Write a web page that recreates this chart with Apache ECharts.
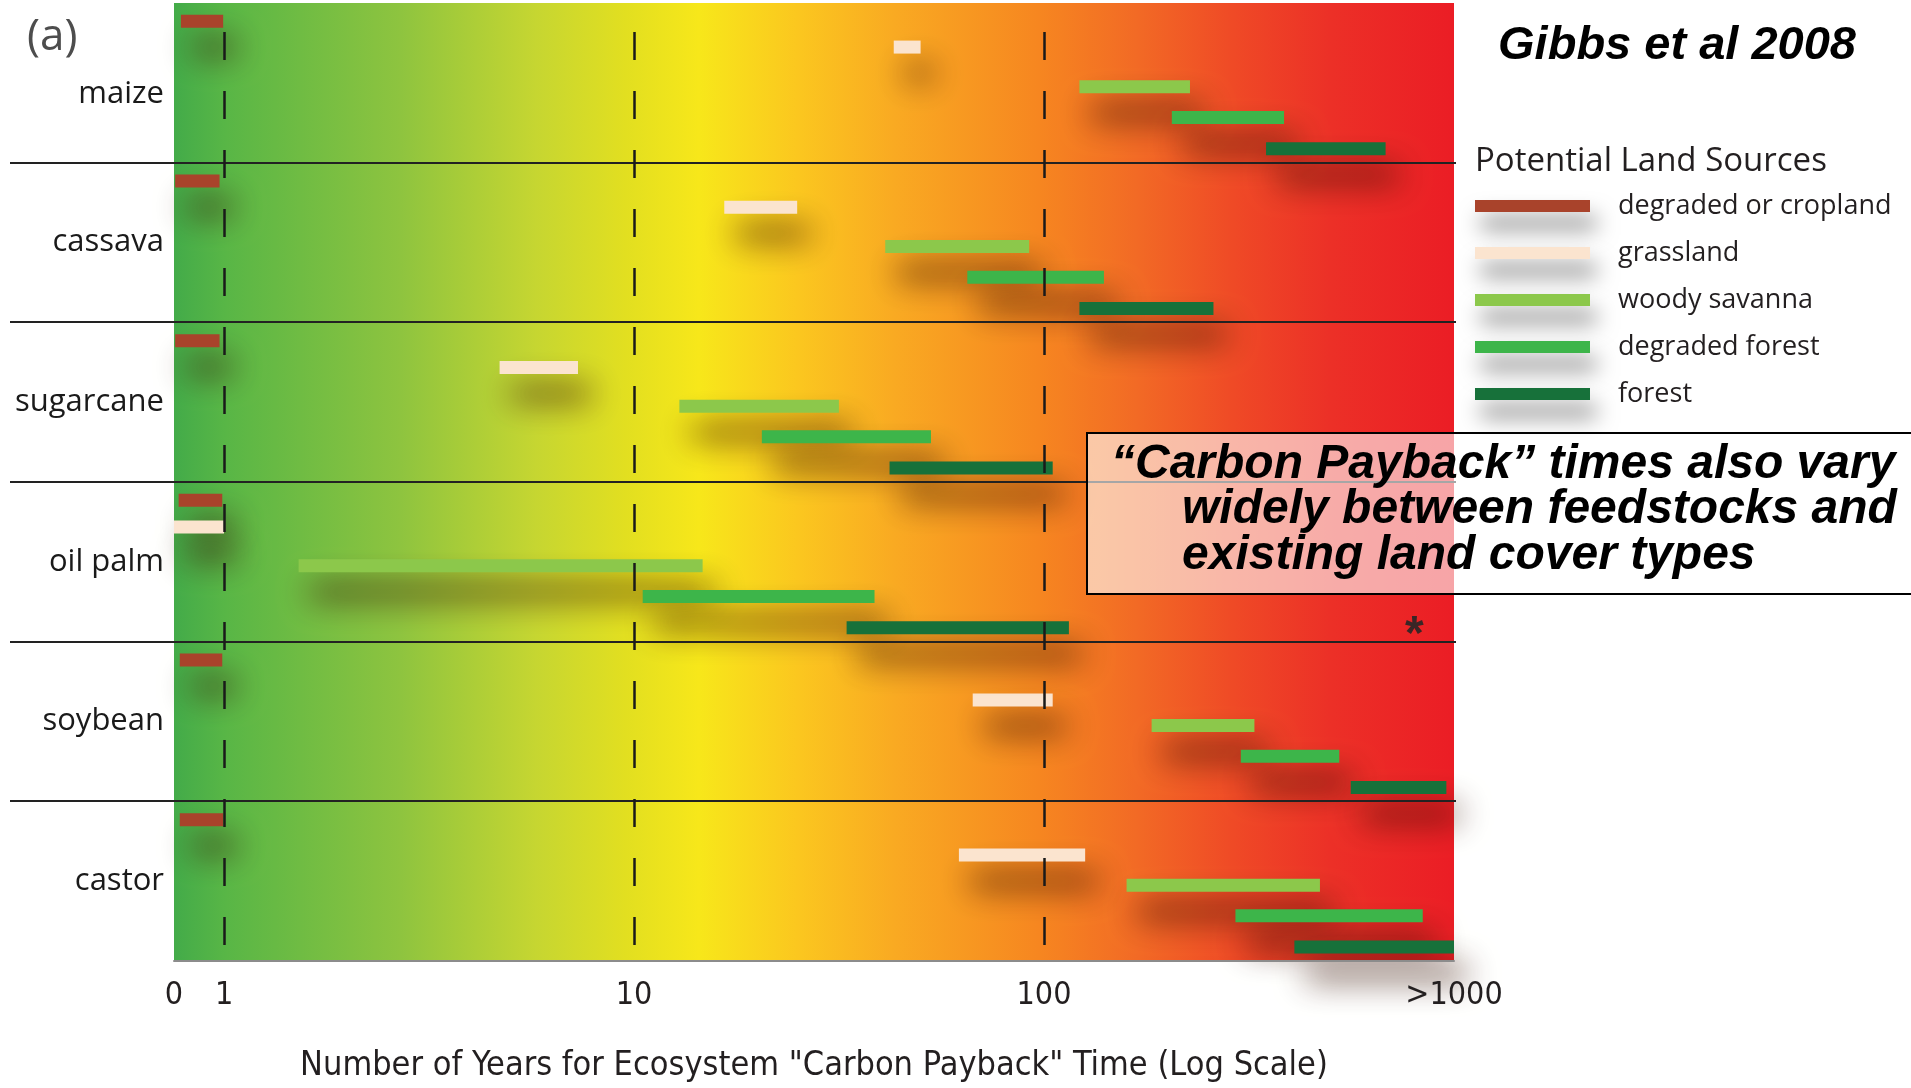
<!DOCTYPE html>
<html>
<head>
<meta charset="utf-8">
<script src="https://cdn.jsdelivr.net/npm/echarts@6/dist/echarts.min.js"></script>
<style>
html,body{margin:0;padding:0;background:#fff;}
#chart{width:1911px;height:1088px;}
</style>
</head>
<body>
<div id="chart"></div>
<script>
// ---------------- DATA ----------------
const categories = ['maize', 'cassava', 'sugarcane', 'oil palm', 'soybean', 'castor'];
const landSources = ['degraded or cropland', 'grassland', 'woody savanna', 'degraded forest', 'forest'];

// [start, end] of carbon payback time in years, one pair per crop (category order)
const croplandYears       = [[0.785, 0.995], [0.76, 0.975], [0.76, 0.975], [0.775, 0.99], [0.78, 0.99], [0.78, 0.995]];
const grasslandYears      = [[43, 50], [16.6, 25], [4.7, 7.3], [0.755, 1.0], [67, 105], [62, 126]];
const savannaYears        = [[122, 227], [41, 92], [12.9, 31.6], [1.52, 14.7], [183, 326], [159, 471]];
const degradedForestYears = [[205, 385], [65, 140], [20.5, 53], [10.5, 38.6], [302, 525], [293, 839]];
const forestYears         = [[348, 681], [122, 259], [42, 105], [33, 115], [560, 958], [408, 1000]];

const axisMinYears = 0.755;   // the "0" end of the axis
const axisMaxYears = 1000;
const tickLabelZero = '0';
const tickLabelMax = '>1000';

const asteriskYears = 800;
const asteriskCrop = 'oil palm';

// ---------------- STYLE / LAYOUT ----------------
const COLORS = ['#a9432b', '#fbe4cf', '#8cc84b', '#3db54a', '#17713a'];
const BAR_H = 13;
// vertical position of each land-source bar inside its crop band (fraction of band)
const BAND_OFFSET = [0.115, null, 0.525, 0.717, 0.913];
const GRASS_OFFSET = [0.276, 0.28, 0.283, 0.282, 0.365, 0.336];
const SEP_EXT = 164;

const NARROW = "'Liberation Sans Narrow', 'Arial Narrow', 'DejaVu Sans Condensed', sans-serif";
const HUMAN = "'Open Sans', 'Noto Sans', sans-serif";
const ARIAL = "'Liberation Sans', Arial, sans-serif";

const seriesYears = [croplandYears, grasslandYears, savannaYears, degradedForestYears, forestYears];

function offsetFor(si, ci) {
  return si === 1 ? GRASS_OFFSET[ci] : BAND_OFFSET[si];
}

function makeBarSeries(si) {
  const color = COLORS[si];
  return {
    type: 'custom',
    name: landSources[si],
    coordinateSystem: 'cartesian2d',
    z: 3,
    itemStyle: { color: color },
    encode: { x: [0, 1], y: 2 },
    data: seriesYears[si].map((r, ci) => [r[0], r[1], ci]),
    renderItem: function (params, api) {
      const ci = api.value(2);
      const p0 = api.coord([api.value(0), ci]);
      const p1 = api.coord([api.value(1), ci]);
      const band = params.coordSys.height / categories.length;
      const yc = p0[1] - band / 2 + band * offsetFor(si, ci);
      return {
        type: 'rect',
        shape: { x: p0[0], y: yc - BAR_H / 2, width: p1[0] - p0[0], height: BAR_H },
        style: {
          fill: color,
          shadowBlur: 32,
          shadowColor: 'rgba(50,12,0,0.85)',
          shadowOffsetX: 12,
          shadowOffsetY: 26
        }
      };
    }
  };
}

const series = seriesYears.map((_, si) => makeBarSeries(si));

// row separators (between crops), extended to the left under the labels
series.push({
  type: 'custom',
  name: 'separators',
  coordinateSystem: 'cartesian2d',
  silent: true,
  clip: false,
  z: 4,
  encode: { x: 0, y: 1 },
  data: categories.slice(1).map((c, i) => [axisMinYears, i + 1]),
  renderItem: function (params, api) {
    const ci = api.value(1);
    const p = api.coord([api.value(0), ci]);
    const band = params.coordSys.height / categories.length;
    const y = Math.round(p[1] - band / 2);
    return {
      type: 'line',
      shape: { x1: params.coordSys.x - SEP_EXT, y1: y, x2: params.coordSys.x + params.coordSys.width + 2, y2: y },
      style: { stroke: '#222222', lineWidth: 2.2 }
    };
  }
});

// asterisk annotation
series.push({
  type: 'custom',
  name: 'asterisk',
  coordinateSystem: 'cartesian2d',
  silent: true,
  z: 4,
  encode: { x: 0, y: 1 },
  data: [[asteriskYears, categories.indexOf(asteriskCrop)]],
  renderItem: function (params, api) {
    const ci = api.value(1);
    const p = api.coord([api.value(0), ci]);
    const band = params.coordSys.height / categories.length;
    const fs = 48;
    return {
      type: 'text',
      style: {
        text: '*', x: p[0], y: p[1] - band / 2 + band * 0.88 + fs * 0.28,
        fill: '#3a2626', fontSize: fs, fontWeight: 'bold', fontFamily: ARIAL,
        align: 'center', verticalAlign: 'middle'
      }
    };
  }
});

const chart = echarts.init(document.getElementById('chart'));
chart.setOption({
  animation: false,
  backgroundColor: '#ffffff',
  grid: {
    show: true,
    outerBoundsMode: 'none',
    containLabel: false,
    left: 174, right: 457, top: 3, bottom: 127,
    borderWidth: 0,
    backgroundColor: {
      type: 'linear', x: 0, y: 0, x2: 1, y2: 0,
      colorStops: [
        { offset: 0.0, color: '#43ab49' },
        { offset: 0.04, color: '#58b646' },
        { offset: 0.177, color: '#8ec43f' },
        { offset: 0.283, color: '#c6d631' },
        { offset: 0.353, color: '#e2df20' },
        { offset: 0.41, color: '#f7e71a' },
        { offset: 0.487, color: '#fbc71f' },
        { offset: 0.5625, color: '#f9aa22' },
        { offset: 0.676, color: '#f68620' },
        { offset: 0.752, color: '#f26a25' },
        { offset: 0.827, color: '#ef4a26' },
        { offset: 0.903, color: '#ec3027' },
        { offset: 1.0, color: '#eb1d25' }
      ]
    }
  },
  xAxis: {
    type: 'log',
    logBase: 10,
    min: axisMinYears,
    max: axisMaxYears,
    z: 5,
    name: 'Number of Years for Ecosystem "Carbon Payback" Time (Log Scale)',
    nameLocation: 'middle',
    nameGap: 88,
    nameTextStyle: { fontSize: 34, fontFamily: NARROW, color: '#231f20' },
    axisLine: { show: true, lineStyle: { color: '#8c8c8c', width: 2 } },
    axisTick: { show: false },
    axisLabel: {
      margin: 19,
      fontSize: 32,
      fontFamily: NARROW,
      color: '#231f20',
      showMinLabel: true,
      showMaxLabel: true,
      formatter: function (v) {
        if (v < 0.99) return tickLabelZero;
        if (v >= axisMaxYears - 0.5) return tickLabelMax;
        return String(Math.round(v));
      }
    },
    splitLine: {
      show: true,
      showMinLine: false,
      showMaxLine: false,
      lineStyle: { color: '#1a1a1a', width: 2.5, type: [28, 31], dashOffset: 30 }
    }
  },
  yAxis: {
    type: 'category',
    data: categories,
    inverse: true,
    axisLine: { show: false },
    axisTick: { show: false },
    splitLine: { show: false },
    axisLabel: {
      fontSize: 31, fontFamily: HUMAN, color: '#1a1a1a', margin: 10,
      formatter: function (v, i) { return i === 0 ? '{low|' + v + '}' : v; },
      rich: { low: { fontSize: 31, fontFamily: HUMAN, color: '#1a1a1a', padding: [22, 0, 0, 0] } }
    }
  },
  legend: {
    data: landSources,
    orient: 'vertical',
    left: 1470,
    top: 185,
    icon: 'rect',
    itemWidth: 115,
    itemHeight: 12,
    itemGap: 15,
    selectedMode: false,
    itemStyle: { shadowBlur: 22, shadowColor: 'rgba(0,0,0,0.5)', shadowOffsetX: 6, shadowOffsetY: 17 },
    textStyle: { fontSize: 27, fontFamily: HUMAN, color: '#231f20', lineHeight: 32, padding: [0, 0, 0, 23] }
  },
  graphic: [
    { type: 'text', x: 27, y: 37, style: { text: '(a)', fontSize: 44, fontFamily: HUMAN, fill: '#4d4d4d', verticalAlign: 'middle' } },
    { type: 'text', x: 1677, y: 46, style: { text: 'Gibbs et al 2008', font: 'italic bold 47px ' + ARIAL, fill: '#000', align: 'center', verticalAlign: 'middle' } },
    { type: 'text', x: 1475, y: 162, style: { text: 'Potential Land Sources', fontSize: 33, fontFamily: HUMAN, fill: '#231f20', verticalAlign: 'middle' } },
    { type: 'rect', z: 100, shape: { x: 1087, y: 433, width: 900, height: 161 }, style: { fill: 'rgba(255,255,255,0.6)', stroke: '#000', lineWidth: 2 } },
    { type: 'text', z: 101, x: 1111, y: 465, style: { text: '\u201cCarbon Payback\u201d times also vary', font: 'italic bold 48px ' + ARIAL, fill: '#000', verticalAlign: 'middle', shadowBlur: 3, shadowColor: 'rgba(0,0,0,0.35)', shadowOffsetX: 3, shadowOffsetY: 3 } },
    { type: 'text', z: 101, x: 1182, y: 510, style: { text: 'widely between feedstocks and', font: 'italic bold 48px ' + ARIAL, fill: '#000', verticalAlign: 'middle', shadowBlur: 3, shadowColor: 'rgba(0,0,0,0.35)', shadowOffsetX: 3, shadowOffsetY: 3 } },
    { type: 'text', z: 101, x: 1182, y: 556, style: { text: 'existing land cover types', font: 'italic bold 48px ' + ARIAL, fill: '#000', verticalAlign: 'middle', shadowBlur: 3, shadowColor: 'rgba(0,0,0,0.35)', shadowOffsetX: 3, shadowOffsetY: 3 } }
  ],
  series: series
});
</script>
</body>
</html>
